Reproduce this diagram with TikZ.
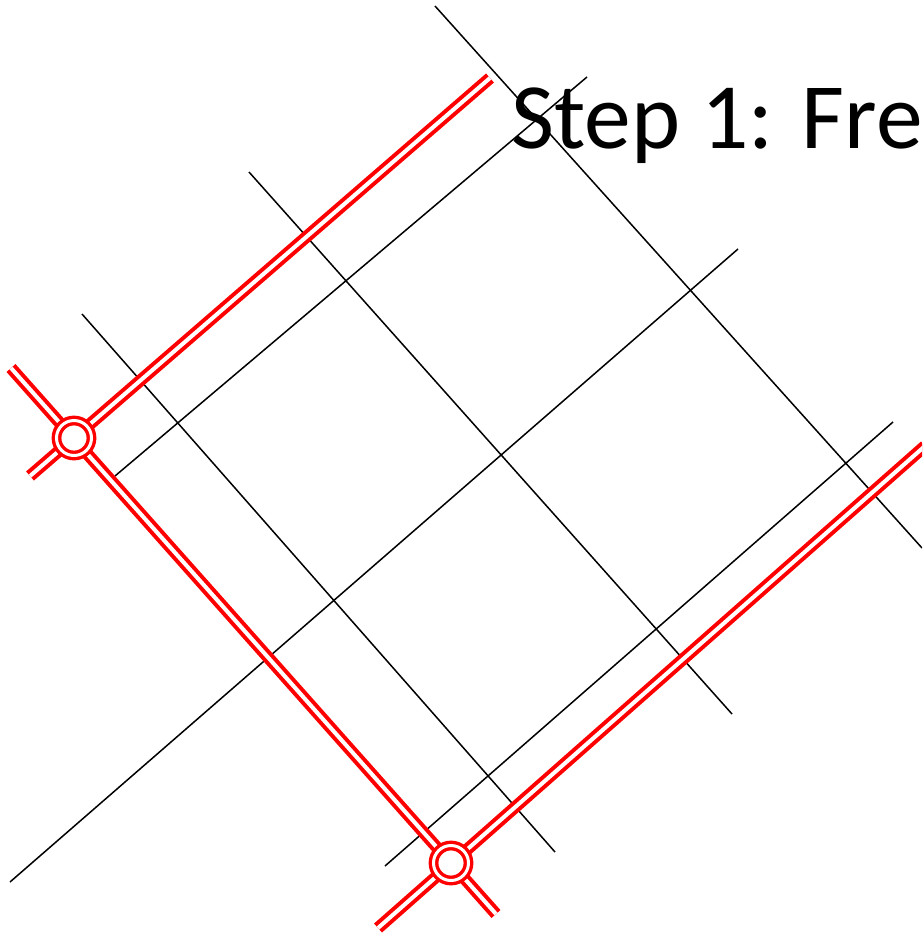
\documentclass[tikz,border=0pt]{standalone}
\usepackage{fontspec}
\setmainfont{Carlito}
\begin{document}
\begin{tikzpicture}[x=1pt,y=-1pt,
  grid/.style={black, line width=1.5pt},
  road/.style={draw=red, double=white, line width=4pt, double distance=4pt, line cap=butt},
  junction/.style={circle, draw=red, double=white, line width=3.4pt, double distance=3pt, fill=white, minimum size=35pt, inner sep=0pt}]
\clip (0,0) rectangle (922,935);
\fill[white] (0,0) rectangle (922,935);
% grid lines NE direction
\coordinate (a1) at (10,882); \coordinate (a2) at (738,249);
\coordinate (b1) at (115,476); \coordinate (b2) at (587,77);
\coordinate (c1) at (385,866); \coordinate (c2) at (893,422);
% grid lines SE direction
\coordinate (d1) at (435,6); \coordinate (d2) at (922,548);
\coordinate (e1) at (249,172); \coordinate (e2) at (732,714);
\coordinate (f1) at (82,314); \coordinate (f2) at (555,852);
\draw[grid] (a1) -- (a2);
\draw[grid] (b1) -- (b2);
\draw[grid] (c1) -- (c2);
\draw[grid] (d1) -- (d2);
\draw[grid] (e1) -- (e2);
\draw[grid] (f1) -- (f2);
% red roads
\coordinate (J1) at (74,438);
\coordinate (J2) at (451,863);
\coordinate (r1) at (30,476); \coordinate (r2) at (490,78);
\coordinate (s1) at (11,368); \coordinate (s2) at (496,914);
\coordinate (t1) at (378,928); \coordinate (t2) at (925,446);
\draw[road] (r1) -- (r2);
\draw[road] (s1) -- (s2);
\draw[road] (t1) -- (t2);
\node[junction] (n1) at (J1) {};
\node[junction] (n2) at (J2) {};
\node[anchor=base west, inner sep=0pt, font=\fontsize{93.5}{103}\selectfont] (title) at (511,148) {Step 1: Fre};
\end{tikzpicture}
\end{document}
